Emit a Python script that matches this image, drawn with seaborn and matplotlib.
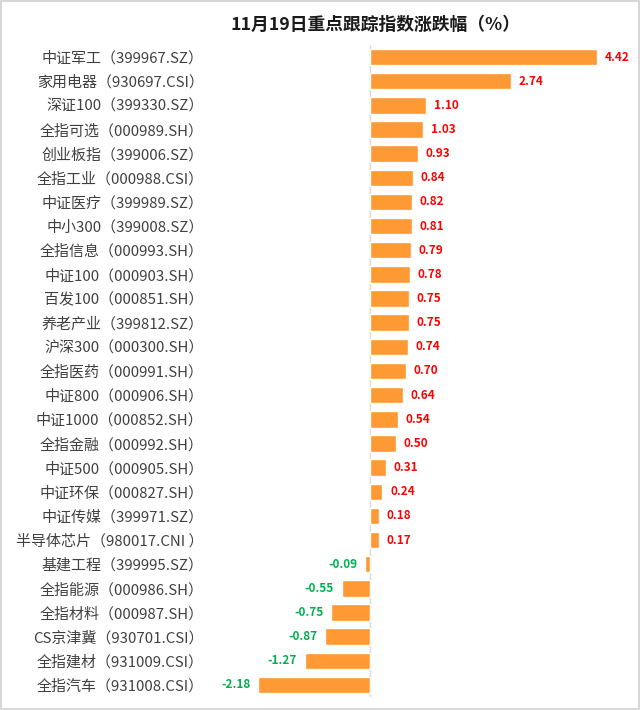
import matplotlib
matplotlib.use("Agg")
import matplotlib.pyplot as plt
import seaborn as sns
import pandas as pd
from matplotlib.patches import Rectangle

# index names and daily change (%)
names = ["中证军工（399967.SZ）", "家用电器（930697.CSI）", "深证100（399330.SZ）",
         "全指可选（000989.SH）", "创业板指（399006.SZ）", "全指工业（000988.CSI）",
         "中证医疗（399989.SZ）", "中小300（399008.SZ）", "全指信息（000993.SH）",
         "中证100（000903.SH）", "百发100（000851.SH）", "养老产业（399812.SZ）",
         "沪深300（000300.SH）", "全指医药（000991.SH）", "中证800（000906.SH）",
         "中证1000（000852.SH）", "全指金融（000992.SH）", "中证500（000905.SH）",
         "中证环保（000827.SH）", "中证传媒（399971.SZ）", "半导体芯片（980017.CNI ）",
         "基建工程（399995.SZ）", "全指能源（000986.SH）", "全指材料（000987.SH）",
         "CS京津冀（930701.CSI）", "全指建材（931009.CSI）", "全指汽车（931008.CSI）"]
changes = [4.42, 2.74, 1.10, 1.03, 0.93, 0.84, 0.82, 0.81, 0.79, 0.78, 0.75, 0.75,
           0.74, 0.70, 0.64, 0.54, 0.50, 0.31, 0.24, 0.18, 0.17,
           -0.09, -0.55, -0.75, -0.87, -1.27, -2.18]
title = "11月19日重点跟踪指数涨跌幅（%）"

df = pd.DataFrame({"name": names, "change": changes})

sns.set_style("white")
plt.rcParams['font.family'] = ['Noto Sans CJK SC', 'DejaVu Sans']

fig = plt.figure(figsize=(6.4, 7.1), dpi=100)
ax = fig.add_axes([205/640, 13/710, 425/640, 652/710])

sns.barplot(data=df, x="change", y="name", color="#FF9933", width=0.68,
            orient="h", ax=ax, saturation=1)

ax.set_xlim(-3.21, 5.06)
ax.set_ylim(26.5, -0.5)
ax.axvline(0, color="#D9D9D9", lw=1, zorder=0)

ax.set_xticks([])
ax.set_xlabel("")
ax.set_ylabel("")
ax.tick_params(axis="y", length=0, pad=1, labelsize=10.8, labelcolor="#404040")
for s in ax.spines.values():
    s.set_visible(False)

for i, v in enumerate(changes):
    if v >= 0:
        ax.text(v + 0.15, i, f"{v:.2f}", va="center", ha="left",
                color="#FF0000", fontsize=8.5, fontweight="bold")
    else:
        ax.text(v - 0.15, i, f"{v:.2f}", va="center", ha="right",
                color="#00B050", fontsize=8.5, fontweight="bold")

fig.text(376/640, 1 - 25/710, title, ha="center", va="center",
         fontsize=12.8, fontweight="bold", color="#1a1a1a")

# light frame around the picture
fig.patches.append(Rectangle((0.001, 0.001), 0.997, 0.997, transform=fig.transFigure,
                             fill=False, edgecolor="#D0D0D0", lw=1.2))

fig.savefig("out.png", dpi=100)
